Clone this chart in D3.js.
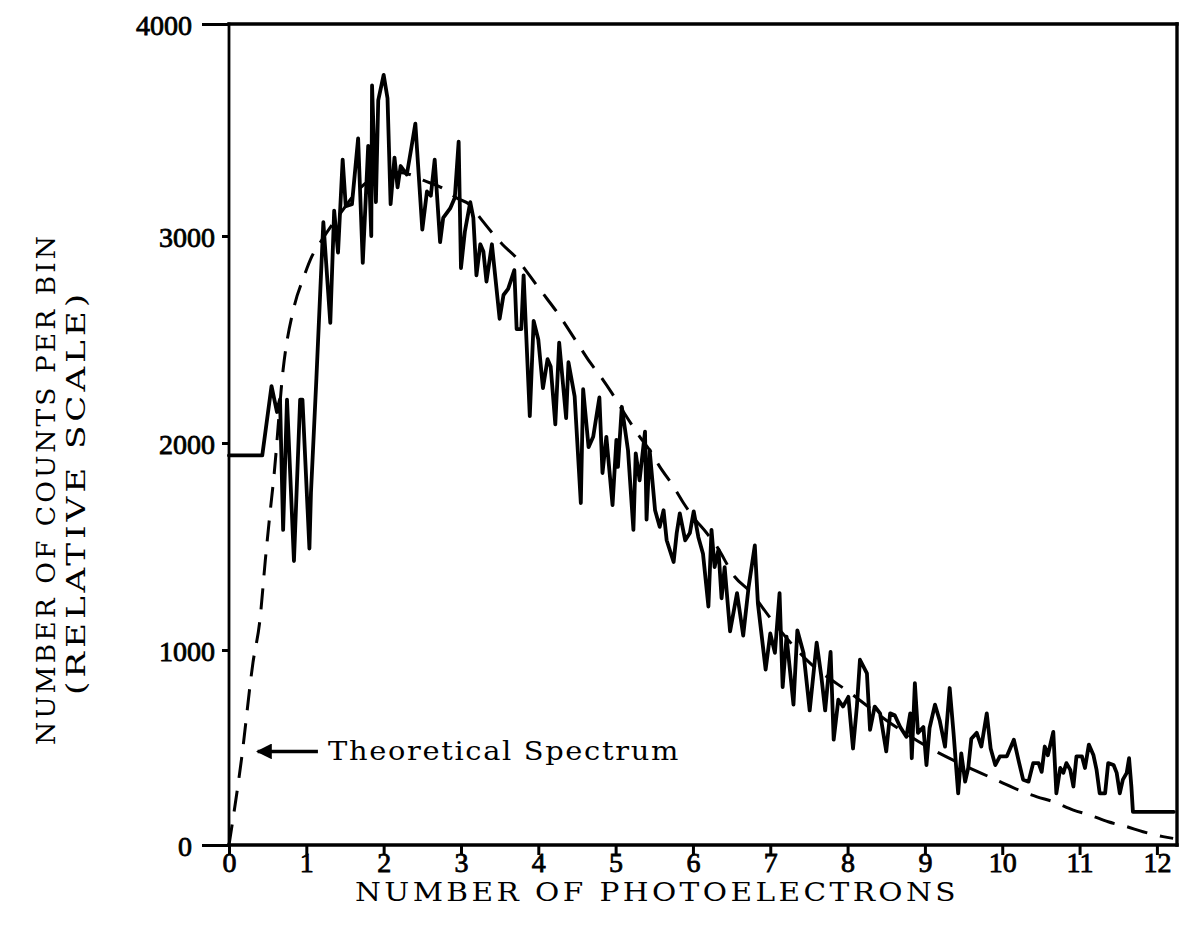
<!DOCTYPE html>
<html><head><meta charset="utf-8">
<script src="https://cdn.jsdelivr.net/npm/d3@7"></script>
<style>body{margin:0;background:#fff}svg{display:block}</style>
</head><body>
<svg id="chart" width="1191" height="938"></svg>
<script>
// ---- data ----
const xTickValues = [0,1,2,3,4,5,6,7,8,9,10,11,12];
const yTickValues = [0,1000,2000,3000,4000];
const xTitle = "NUMBER OF PHOTOELECTRONS";
const yTitleLine1 = "NUMBER OF COUNTS PER BIN";
const yTitleLine2 = "(RELATIVE SCALE)";
const annotationText = "Theoretical Spectrum";

// measured spectrum: [photoelectrons, counts per bin]
const measured = [[0,1940],[0.43,1940],[0.55,2275],[0.62,2150],[0.66,2210],[0.70,1580],[0.75,2210],[0.84,1430],[0.92,2210],[0.95,2210],[1.04,1490],[1.06,1760],[1.13,2310],[1.22,3065],[1.31,2580],[1.36,3120],[1.41,2920],[1.47,3360],[1.51,3140],[1.59,3150],[1.67,3460],[1.73,2870],[1.80,3425],[1.84,3000],[1.85,3710],[1.90,3160],[1.93,3640],[2.00,3760],[2.05,3650],[2.09,3150],[2.14,3370],[2.18,3230],[2.22,3330],[2.30,3290],[2.36,3420],[2.41,3530],[2.50,3030],[2.56,3210],[2.61,3190],[2.66,3360],[2.73,2970],[2.77,3085],[2.86,3130],[2.92,3180],[2.97,3445],[3.00,2845],[3.05,3020],[3.12,3160],[3.16,3085],[3.20,2810],[3.25,2960],[3.29,2925],[3.33,2780],[3.40,2960],[3.50,2600],[3.55,2715],[3.61,2745],[3.69,2835],[3.72,2550],[3.78,2550],[3.81,2810],[3.89,2130],[3.94,2590],[4.00,2500],[4.06,2265],[4.12,2405],[4.16,2370],[4.22,2090],[4.27,2485],[4.36,2120],[4.39,2390],[4.47,2225],[4.55,1710],[4.58,2260],[4.65,1980],[4.71,2030],[4.79,2220],[4.83,1855],[4.88,2030],[4.96,1700],[5.01,2015],[5.03,1885],[5.08,2175],[5.16,1965],[5.23,1580],[5.26,1950],[5.31,1820],[5.38,2055],[5.40,1630],[5.44,1965],[5.51,1675],[5.57,1595],[5.62,1675],[5.66,1530],[5.75,1425],[5.79,1565],[5.83,1660],[5.90,1530],[5.96,1565],[6.01,1670],[6.07,1545],[6.13,1465],[6.20,1210],[6.24,1580],[6.28,1400],[6.33,1485],[6.37,1250],[6.41,1400],[6.48,1090],[6.57,1275],[6.65,1070],[6.72,1305],[6.80,1505],[6.84,1225],[6.94,900],[7.00,1080],[7.06,985],[7.12,1275],[7.16,810],[7.21,1065],[7.30,720],[7.35,1095],[7.43,985],[7.51,690],[7.60,1035],[7.66,865],[7.71,690],[7.78,990],[7.82,540],[7.88,745],[7.94,710],[8.01,760],[8.07,495],[8.12,710],[8.16,950],[8.25,880],[8.29,590],[8.35,710],[8.42,675],[8.50,480],[8.55,675],[8.61,665],[8.68,605],[8.76,555],[8.81,675],[8.83,445],[8.87,830],[8.91,575],[8.98,605],[9.02,410],[9.06,600],[9.13,720],[9.19,640],[9.26,505],[9.32,805],[9.37,575],[9.43,265],[9.47,470],[9.52,325],[9.56,395],[9.60,545],[9.67,575],[9.73,505],[9.80,675],[9.85,495],[9.91,410],[9.97,455],[10.06,455],[10.15,540],[10.21,435],[10.27,335],[10.34,325],[10.40,420],[10.47,420],[10.51,375],[10.55,505],[10.59,460],[10.66,580],[10.70,265],[10.75,395],[10.79,370],[10.83,420],[10.88,385],[10.92,300],[10.96,455],[11.03,455],[11.07,395],[11.12,515],[11.18,460],[11.22,385],[11.26,265],[11.33,265],[11.37,420],[11.44,410],[11.48,370],[11.52,265],[11.56,335],[11.61,370],[11.64,445],[11.67,300],[11.69,170],[12.22,170]];

// theoretical spectrum: [photoelectrons, counts per bin]
const theory = [[0,0],[0.16,435],[0.31,935],[0.40,1145],[0.47,1435],[0.53,1660],[0.58,1835],[0.70,2355],[0.84,2655],[0.97,2805],[1.07,2900],[1.20,2980],[1.44,3107],[1.69,3224],[2.02,3294],[2.21,3300],[2.34,3290],[2.51,3263],[2.77,3224],[2.95,3178],[3.12,3146],[3.25,3084],[3.54,2958],[3.72,2893],[3.85,2828],[3.98,2762],[4.11,2698],[4.24,2633],[4.50,2486],[4.67,2389],[4.80,2324],[4.95,2242],[5.14,2128],[5.31,2031],[5.44,1966],[5.57,1886],[5.75,1789],[5.88,1709],[6.00,1644],[6.18,1564],[6.31,1499],[6.54,1354],[6.74,1282],[7.02,1145],[7.47,949],[8.07,769],[8.50,640],[9.15,478],[9.45,419],[9.97,325],[10.21,282],[10.45,247],[10.66,222],[10.92,179],[11.13,154],[11.37,119],[11.61,94],[11.82,68],[12.08,43],[12.21,34]];

// ---- drawing ----
const svg = d3.select("#chart");
const FONT = "'DejaVu Serif', 'Liberation Serif', serif";
const DIGITS = "'Liberation Serif', 'DejaVu Serif', serif";
const plotLeft = 229, plotRight = 1177, plotTop = 24, plotBottom = 845;

const x = d3.scaleLinear().domain([0, 12.26]).range([plotLeft, plotRight]);
// scanned figure: vertical spacing of the grid values is slightly uneven
const y = d3.scaleLinear().domain(yTickValues).range([845,650,443,236,24]);

svg.append("rect").attr("width",1191).attr("height",938).attr("fill","#fff");

// frame
const frame = svg.append("g").attr("stroke","#000").attr("fill","none").attr("stroke-linecap","square");
frame.append("line").attr("x1",plotLeft).attr("x2",plotRight).attr("y1",plotTop).attr("y2",plotTop).attr("stroke-width",3.4);
frame.append("line").attr("x1",plotRight).attr("x2",plotRight).attr("y1",plotTop).attr("y2",plotBottom).attr("stroke-width",3.4);
frame.append("line").attr("x1",plotLeft).attr("x2",plotRight).attr("y1",plotBottom).attr("y2",plotBottom).attr("stroke-width",3.4);
frame.append("line").attr("x1",plotLeft).attr("x2",plotLeft).attr("y1",plotTop).attr("y2",plotBottom).attr("stroke-width",2.8);

// x axis
const xAxis = d3.axisBottom(x).tickValues(xTickValues).tickSize(10).tickPadding(-3).tickFormat(d3.format("d"));
const gx = svg.append("g").attr("transform",`translate(0,${plotBottom})`).call(xAxis);
gx.select(".domain").remove();
gx.selectAll(".tick line").attr("stroke","#000").attr("stroke-width",3);
gx.selectAll(".tick text").attr("font-family",DIGITS).attr("font-size",28).attr("fill","#000")
  .attr("stroke","#000").attr("stroke-width",0.8);

// y axis
const yAxis = d3.axisLeft(y).tickValues(yTickValues).tickSize(7).tickPadding(0).tickFormat(d3.format("d"));
const gy = svg.append("g").attr("transform",`translate(${plotLeft},0)`).call(yAxis);
gy.select(".domain").remove();
const longTick = d => d === 0 || d === 4000;
gy.selectAll(".tick line").attr("stroke","#000").attr("stroke-width",3)
  .attr("x2", d => longTick(d) ? -27 : -7);
gy.selectAll(".tick text").attr("font-family",DIGITS).attr("font-size",28).attr("fill","#000")
  .attr("stroke","#000").attr("stroke-width",0.8)
  .attr("x", d => longTick(d) ? -37 : -14).attr("dy","0.36em");

// theoretical dashed curve
svg.append("path").datum(theory)
  .attr("d", d3.line().x(d=>x(d[0])).y(d=>y(d[1])).curve(d3.curveMonotoneX))
  .attr("fill","none").attr("stroke","#000").attr("stroke-width",3)
  .attr("stroke-dasharray","21,13");

// measured spectrum
svg.append("path").datum(measured)
  .attr("d", d3.line().x(d=>x(d[0])).y(d=>y(d[1])))
  .attr("fill","none").attr("stroke","#000").attr("stroke-width",3.8)
  .attr("stroke-linejoin","round").attr("stroke-linecap","round");

// helper: wide typewriter-like lettering
function wideText(sel, len, size, spacing) {
  return sel.attr("font-family",FONT).attr("font-size",size).attr("fill","#000")
    .attr("letter-spacing",spacing).attr("textLength",len).attr("lengthAdjust","spacingAndGlyphs");
}

// annotation with arrow
const annY = y(480);
svg.append("defs").append("marker").attr("id","ah").attr("viewBox","0 0 10 10")
  .attr("refX",9).attr("refY",5).attr("markerWidth",4.5).attr("markerHeight",4.5)
  .attr("orient","auto")
  .append("path").attr("d","M10,5 L0,0 L0,10 Z").attr("fill","#000");
svg.append("line").attr("x1", x(1.15)).attr("x2", x(0.37)).attr("y1", annY).attr("y2", annY)
  .attr("stroke","#000").attr("stroke-width",3.5).attr("marker-end","url(#ah)");
wideText(svg.append("text").attr("x", x(1.28)).attr("y", annY + 9), 352, 26, 1.5)
  .text(annotationText);

// axis titles
wideText(svg.append("text").attr("x",355).attr("y",901), 604, 26, 3).text(xTitle);
wideText(svg.append("text").attr("transform","translate(55,745) rotate(-90)"), 512, 26, 3)
  .text(yTitleLine1);
wideText(svg.append("text").attr("transform","translate(85,695) rotate(-90)"), 405, 26, 3)
  .text(yTitleLine2);
</script>
</body></html>
